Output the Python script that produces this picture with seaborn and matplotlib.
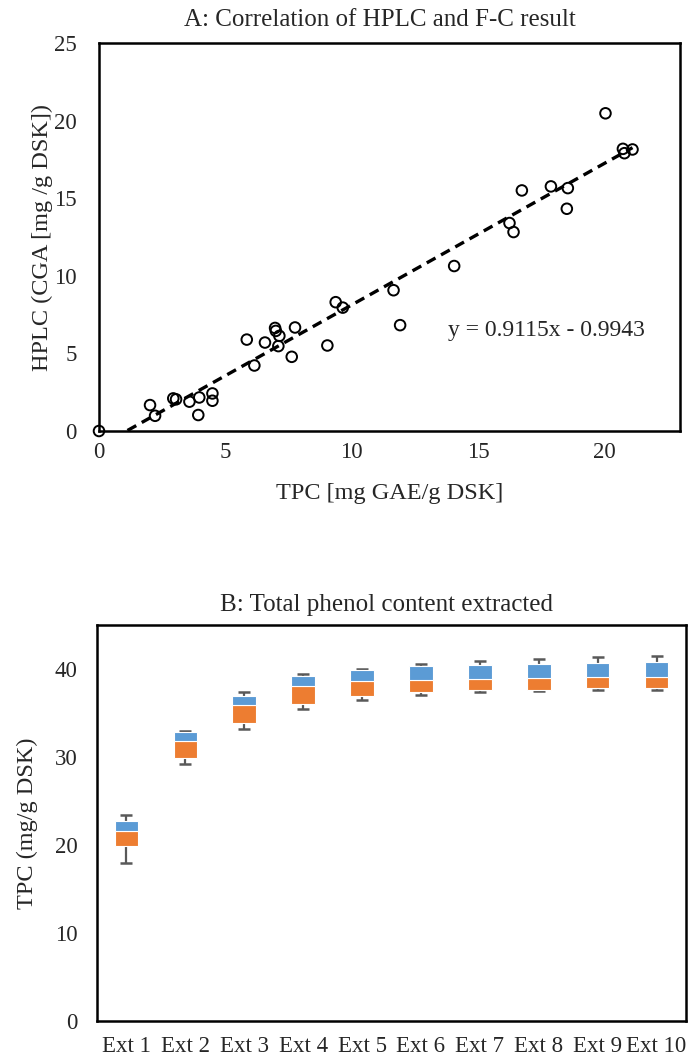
import numpy as np
import pandas as pd
import matplotlib
matplotlib.use("Agg")
import matplotlib.pyplot as plt
import seaborn as sns

# Panel A: HPLC chlorogenic acid vs Folin-Ciocalteu total phenols
tpc = [0, 2.02, 2.22, 2.94, 3.05, 3.58, 3.93, 3.97, 4.49, 4.49, 5.85, 6.15,
       6.57, 6.97, 7.00, 7.14, 7.10, 7.63, 7.76, 9.04, 9.37, 9.65, 11.66,
       11.92, 14.06, 16.25, 16.41, 16.74, 17.89, 18.56, 18.52, 20.05, 20.74,
       20.80, 21.12]
hplc = [0, 1.67, 0.98, 2.10, 2.04, 1.89, 1.03, 2.16, 2.42, 1.95, 5.89, 4.22,
        5.70, 6.64, 6.45, 6.13, 5.47, 4.78, 6.67, 5.51, 8.30, 7.95, 9.07,
        6.82, 10.63, 13.40, 12.82, 15.50, 15.76, 15.65, 14.32, 20.47, 18.18,
        17.90, 18.14]
slope, intercept = 0.9115, -0.9943

# Panel B: total phenol content per extraction step
extractions = ["Ext 1", "Ext 2", "Ext 3", "Ext 4", "Ext 5",
               "Ext 6", "Ext 7", "Ext 8", "Ext 9", "Ext 10"]
tpc_min = [17.95, 29.24, 33.22, 35.45, 36.48, 37.08, 37.42, 37.54, 37.57, 37.61]
tpc_q1 = [19.90, 29.89, 33.90, 36.06, 36.93, 37.42, 37.57, 37.65, 37.80, 37.88]
tpc_med = [21.55, 31.86, 35.87, 38.03, 38.60, 38.70, 38.86, 39.00, 39.05, 39.12]
tpc_q3 = [22.70, 32.84, 36.90, 39.17, 39.92, 40.30, 40.50, 40.60, 40.68, 40.76]
tpc_max = [23.40, 33.00, 37.39, 39.43, 40.00, 40.53, 40.90, 41.14, 41.33, 41.52]

sns.set_theme(style="white")
plt.rcParams["font.family"] = ["Liberation Serif", "DejaVu Serif"]
TICK_FS = 16.5
LABEL_FS = 17.5
TITLE_FS = 18
EQ_FS = 17

W, H = 692, 1060
fig = plt.figure(figsize=(W / 100, H / 100), dpi=100)


def box(l, t, r, b):
    return [l / W, 1 - b / H, (r - l) / W, (b - t) / H]


def frame(ax):
    for sp in ax.spines.values():
        sp.set_visible(True)
        sp.set_color("black")
        sp.set_linewidth(1.8)


# ---- A ----
axA = fig.add_axes(box(99, 43, 680, 431))
dfA = pd.DataFrame({"tpc": tpc, "hplc": hplc})
sns.scatterplot(data=dfA, x="tpc", y="hplc", ax=axA, marker="o", s=58,
                facecolor="none", edgecolor="black", linewidth=1.4,
                clip_on=False, zorder=3)
xfit = np.array([0, max(tpc)])
dfFit = pd.DataFrame({"x": xfit, "y": slope * xfit + intercept})
sns.lineplot(data=dfFit, x="x", y="y", ax=axA, color="black", linewidth=2.4,
             dashes=False, zorder=2)
axA.lines[-1].set_dashes((3.0, 1.9))
axA.text(13.8, 6.5, f"y = {slope:.4f}x - {abs(intercept):.4f}",
         fontsize=EQ_FS, va="center", ha="left")
axA.set_xlim(0, 23)
axA.set_ylim(0, 25)
axA.set_xticks([0, 5, 10, 15, 20])
axA.set_yticks([0, 5, 10, 15, 20, 25])
axA.tick_params(axis="both", length=0, labelsize=TICK_FS)
axA.tick_params(axis="y", pad=16)
axA.tick_params(axis="x", pad=8)
axA.set_xlabel("TPC [mg GAE/g DSK]", fontsize=LABEL_FS, labelpad=14)
axA.set_ylabel("HPLC (CGA [mg /g DSK])", fontsize=LABEL_FS, labelpad=1)
frame(axA)
fig.text(380 / W, 1 - 20 / H, "A: Correlation of HPLC and F-C result",
         fontsize=TITLE_FS, ha="center", va="center")

# ---- B ----
axB = fig.add_axes(box(97, 625, 686, 1021))
dfB = pd.DataFrame({"ext": extractions, "q1": tpc_q1, "med": tpc_med,
                    "q3": tpc_q3, "lo": tpc_min, "hi": tpc_max})
dfB["lower_h"] = dfB["med"] - dfB["q1"]
dfB["upper_h"] = dfB["q3"] - dfB["med"]
pos = np.arange(len(extractions))
axB.errorbar(pos, dfB["med"], yerr=[dfB["med"] - dfB["lo"], dfB["hi"] - dfB["med"]],
             fmt="none", ecolor="#595959", elinewidth=1.6, capsize=4.2,
             capthick=1.8, zorder=1)
sns.barplot(data=dfB, x="ext", y="lower_h", ax=axB, color="#ED7D31",
            saturation=1, width=0.4, bottom=dfB["q1"].to_numpy(),
            edgecolor="white", linewidth=0.8, zorder=2)
sns.barplot(data=dfB, x="ext", y="upper_h", ax=axB, color="#5B9BD5",
            saturation=1, width=0.4, bottom=dfB["med"].to_numpy(),
            edgecolor="white", linewidth=0.8, zorder=2)
axB.set_xlim(-0.5, len(extractions) - 0.5)
axB.set_ylim(0, 45)
axB.set_yticks([0, 10, 20, 30, 40])
axB.tick_params(axis="both", length=0, labelsize=TICK_FS)
axB.tick_params(axis="y", pad=14)
axB.tick_params(axis="x", pad=11)
axB.set_xlabel("")
axB.set_ylabel("TPC (mg/g DSK)", fontsize=LABEL_FS, labelpad=12)
frame(axB)
fig.text(387 / W, 1 - 605 / H, "B: Total phenol content extracted",
         fontsize=TITLE_FS, ha="center", va="center")

fig.savefig("out.png", dpi=100, facecolor="white")
